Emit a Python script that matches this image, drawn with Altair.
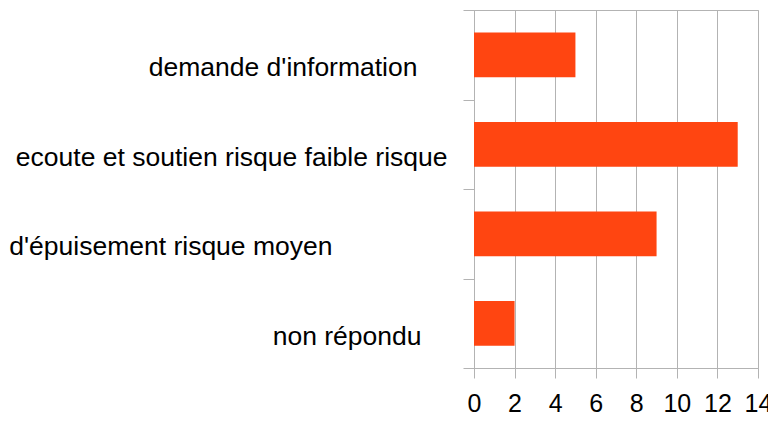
import altair as alt
import pandas as pd

categories = ["demande d'information",
              "ecoute et soutien risque faible risque",
              "d'épuisement risque moyen",
              "non répondu"]
values = [5, 13, 9, 2]
x_ticks = [0, 2, 4, 6, 8, 10, 12, 14]

df = pd.DataFrame({"cat": categories, "val": values})

GRAY = "#b3b3b3"

bars = alt.Chart(df).mark_bar(color="#ff4511", height={"band": 0.5}).encode(
    y=alt.Y("cat:N", sort=categories, title=None,
            scale=alt.Scale(paddingInner=0, paddingOuter=0),
            axis=alt.Axis(tickBand="extent", grid=False, domainColor=GRAY,
                          tickColor=GRAY, tickSize=11, labelFont="Liberation Sans",
                          labelFontSize=26.5, labelColor="#000000", labelOffset=13,
                          labelLimit=0,
                          labelPadding={"condition": [
                              {"test": "datum.value == \"ecoute et soutien risque faible risque\"", "value": 16},
                              {"test": "datum.value == \"d'épuisement risque moyen\"", "value": 131},
                              {"test": "datum.value == \"non répondu\"", "value": 42}],
                              "value": 46})),
    x=alt.X("val:Q", title=None,
            scale=alt.Scale(domain=[0, 14], nice=False),
            axis=alt.Axis(values=x_ticks, grid=True, gridColor=GRAY, domainColor=GRAY,
                          tickColor=GRAY, tickSize=10, labelFont="Liberation Sans",
                          labelFontSize=25, labelColor="#000000", labelPadding=13,
                          labelFlush=False)),
).properties(
    width=284, height=358,
    autosize=alt.AutoSizeParams(type="none"),
    padding={"left": 466, "top": 2, "right": 10, "bottom": 47},
).configure_view(stroke=GRAY)

bars.save("out.html", embed_options={"renderer": "svg", "actions": False})
